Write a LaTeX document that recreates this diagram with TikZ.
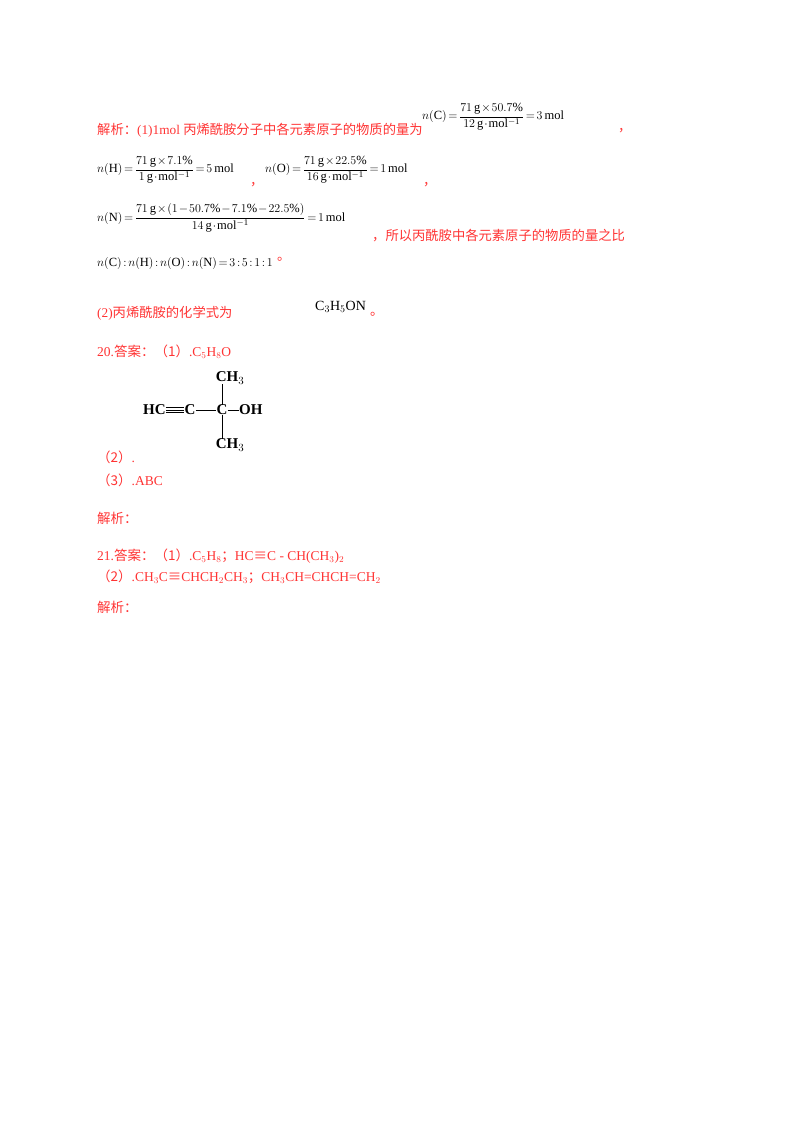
\documentclass[tikz,border=0pt]{standalone}
\usepackage{fontspec}
\usepackage{amsmath}
\setmainfont{Liberation Serif}
\newfontfamily\cjk{Noto Sans CJK SC}
\definecolor{rd}{HTML}{FF3333}
\medmuskip=1.5mu plus 1mu
\thickmuskip=2.5mu plus 1mu
\begin{document}
\begin{tikzpicture}[x=1pt,y=-1pt,
  t/.style={anchor=west,inner sep=0pt,text=rd,font=\fontsize{13.3}{15}\selectfont},
  s/.style={anchor=west,inner sep=0pt,text=rd,font=\fontsize{13.5}{15}\selectfont},
  m/.style={anchor=west,inner sep=0pt,font=\fontsize{12.5}{14}\selectfont},
  c/.style={inner sep=0pt,font=\fontsize{15}{17}\selectfont\bfseries}]
\useasboundingbox (0,0) rectangle (800,1132);
\node[t] (l1) at (97,130) {{\cjk 解析：}(1)1mol {\cjk 丙烯酰胺分子中各元素原子的物质的量为}};
\node[m] (fc) at (422,117) {$n(\mathrm{C})=\dfrac{71\,\mathrm{g}\times50.7\%}{12\,\mathrm{g\cdot mol^{-1}}}=3\,\mathrm{mol}$};
\node[t] (k1) at (618,131) {{\cjk ，}};
\node[m] (fh) at (97,170) {$n(\mathrm{H})=\dfrac{71\,\mathrm{g}\times7.1\%}{1\,\mathrm{g\cdot mol^{-1}}}=5\,\mathrm{mol}$};
\node[t] (k2) at (250,185) {{\cjk ，}};
\node[m] (fo) at (265,170) {$n(\mathrm{O})=\dfrac{71\,\mathrm{g}\times22.5\%}{16\,\mathrm{g\cdot mol^{-1}}}=1\,\mathrm{mol}$};
\node[t] (k3) at (423,185) {{\cjk ，}};
\node[m] (fn) at (97,218) {$n(\mathrm{N})=\dfrac{71\,\mathrm{g}\times(1-50.7\%-7.1\%-22.5\%)}{14\,\mathrm{g\cdot mol^{-1}}}=1\,\mathrm{mol}$};
\node[t] (l3) at (372,236) {{\cjk ，所以丙酰胺中各元素原子的物质的量之比}};
\node[m] (rt) at (97,263) {$n(\mathrm{C}):n(\mathrm{H}):n(\mathrm{O}):n(\mathrm{N})=3:5:1:1$};
\node[t] (p1) at ([xshift=4pt,yshift=4pt]rt.east) {{\cjk 。}};
\node[t] (l5) at (97,313) {(2){\cjk 丙烯酰胺的化学式为}};
\node[anchor=west,inner sep=0pt,font=\fontsize{14}{16}\selectfont] (fm) at (315,307) {C$_3$H$_5$ON};
\node[t] (p2) at (370,314) {{\cjk 。}};
\node[s] (a20) at (97,352) {20.{\cjk 答案：（1）}.C$_5$H$_8$O};
\node[c,anchor=west] (hc) at (143,410) {HC};
\node[c] (c1) at (190,410) {C};
\node[c] (c2) at (222,410) {C};
\node[c,anchor=west] (oh) at (239,410) {OH};
\node[c] (m1) at (230,378) {CH$_3$};
\node[c] (m2) at (230,445) {CH$_3$};
\draw[line width=0.7pt] ([yshift=-2.2pt]hc.east)--([yshift=-2.2pt]c1.west) (hc.east)--(c1.west) ([yshift=2.2pt]hc.east)--([yshift=2.2pt]c1.west);
\draw[line width=0.7pt] (c1)--(c2) (c2)--(oh) (c2)--(c2|-m1.south) (c2)--(c2|-m2.north);
\node[s] (a2) at (97,457) {{\cjk （2）}.};
\node[s] (a3) at (97,480) {{\cjk （3）}.ABC};
\node[s] (j1) at (97,518) {{\cjk 解析：}};
\node[s] (a21) at (97,556) {21.{\cjk 答案：（1）}.C$_5$H$_8${\cjk ；}HC{\cjk ≡}C - CH(CH$_3$)$_2$};
\node[s] (b21) at (97,577) {{\cjk （2）}.CH$_3$C{\cjk ≡}CHCH$_2$CH$_3${\cjk ；}CH$_3$CH=CHCH=CH$_2$};
\node[s] (j2) at (97,607) {{\cjk 解析：}};
\end{tikzpicture}
\end{document}
